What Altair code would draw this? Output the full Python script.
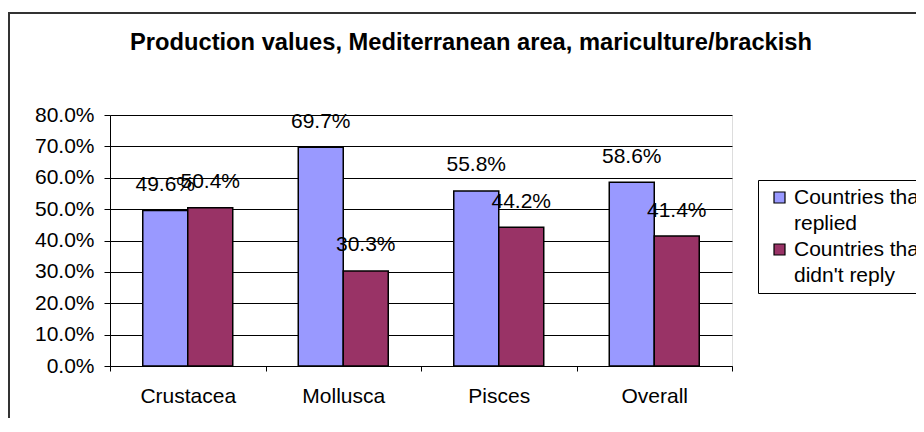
import altair as alt
import pandas as pd

categories = ["Crustacea", "Mollusca", "Pisces", "Overall"]
series = ["Countries that replied", "Countries that didn't reply"]
replied = [0.496, 0.697, 0.558, 0.586]
not_replied = [0.504, 0.303, 0.442, 0.414]
colors = ["#9999FF", "#993366"]
y_ticks = [0.0, 0.1, 0.2, 0.3, 0.4, 0.5, 0.6, 0.7, 0.8]
title_text = "Production values, Mediterranean area, mariculture/brackish"

rows = []
for c, a, b in zip(categories, replied, not_replied):
    rows.append({"cat": c, "series": series[0], "value": a})
    rows.append({"cat": c, "series": series[1], "value": b})
df = pd.DataFrame(rows)

FONT = "Liberation Sans"
FS = 21

x_enc = alt.X("cat:N", sort=categories, title=None,
              scale=alt.Scale(paddingInner=0, paddingOuter=0),
              axis=alt.Axis(labelAngle=0, tickBand="extent", tickSize=5,
                            labelPadding=14, labelFontSize=FS, labelFont=FONT,
                            labelColor="#000", domainColor="#000", tickColor="#000",
                            labelOverlap=False, grid=False))
xoff = alt.XOffset("series:N", sort=series,
                   scale=alt.Scale(paddingInner=0, paddingOuter=0.728))
y_enc = alt.Y("value:Q", title=None,
              scale=alt.Scale(domain=[0, 0.8], nice=False),
              axis=alt.Axis(values=y_ticks, tickCount=20, format=".1%", tickSize=6, labelPadding=10,
                            labelFontSize=FS, labelFont=FONT, labelColor="#000",
                            labelOverlap=False, labelFlush=False,
                            domainColor="#000", tickColor="#000",
                            grid=True, gridColor="#000", gridWidth=1))

one = alt.Data(values=[{"t": title_text}])

frame = alt.Chart(one).mark_rect(
    fill=None, stroke="#333", strokeWidth=2, clip=False
).encode(x=alt.value(-101), x2=alt.value(900), y=alt.value(-102), y2=alt.value(600))

title = alt.Chart(one).mark_text(
    fontSize=23.7, font=FONT, fontWeight="bold", color="#000",
    baseline="alphabetic", align="center", clip=False
).encode(x=alt.value(361), y=alt.value(-65), text="t:N")

bars = alt.Chart(df).mark_bar(stroke="#000", strokeWidth=1.5).encode(
    x=x_enc, xOffset=xoff, y=y_enc,
    color=alt.Color("series:N", sort=series,
                    scale=alt.Scale(domain=series, range=colors),
                    legend=alt.Legend(
                        title=None, orient="none", legendX=648, legendY=65,
                        symbolType="square", symbolSize=121, symbolStrokeColor="#000",
                        symbolStrokeWidth=1.2, symbolOpacity=1, symbolOffset=4,
                        labelFontSize=FS, labelFont=FONT, labelColor="#000", labelLimit=400,
                        labelExpr="datum.label == 'Countries that replied' ? ['Countries that', 'replied'] : ['Countries that', \"didn't reply\"]",
                        strokeColor="#000", padding=7, rowPadding=4,
                        fillColor="#FFFFFF"))
)

labels = alt.Chart(df).mark_text(
    fontSize=FS, font=FONT, color="#000", baseline="alphabetic", dy=-19.5
).encode(x=x_enc, xOffset=xoff, y=y_enc, text=alt.Text("value:Q", format=".1%"))

chart = alt.layer(frame, bars, labels, title).properties(
    width=622, height=251,
    autosize=alt.AutoSizeParams(type="none"),
    padding={"left": 102, "top": 107, "right": 184, "bottom": 52},
).configure_view(
    fill="#C0C0C0", stroke="#808080", strokeWidth=1
).configure(
    background="#FFFFFF", style={"guide-label": {"lineHeight": 26}}
)

chart.save("out.html", embed_options={"renderer": "svg", "actions": False})
